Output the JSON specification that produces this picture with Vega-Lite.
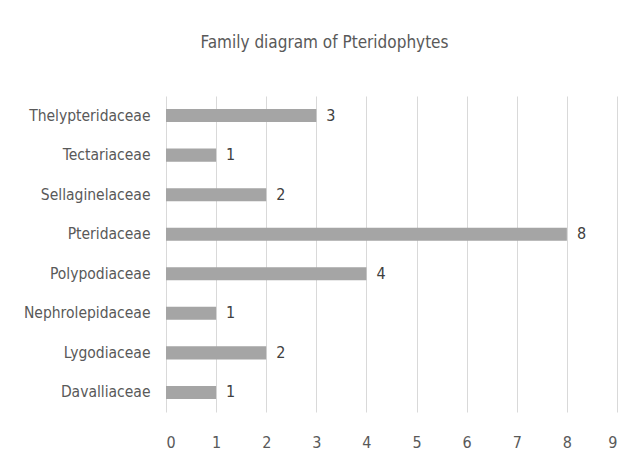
{
  "$schema": "https://vega.github.io/schema/vega-lite/v6.json",
  "width": 451,
  "height": 316,
  "autosize": {"type": "none"},
  "padding": {"left": 166, "top": 96, "right": 19, "bottom": 51},
  "background": "white",
  "title": {
    "text": "Family diagram of Pteridophytes",
    "anchor": "middle",
    "dx": -67,
    "offset": 44,
    "font": "'DejaVu Sans Condensed', 'Liberation Sans Narrow', sans-serif",
    "fontSize": 17,
    "fontWeight": "normal",
    "color": "#595959"
  },
  "data": {
    "values": [
      {"family": "Thelypteridaceae", "count": 3},
      {"family": "Tectariaceae", "count": 1},
      {"family": "Sellaginelaceae", "count": 2},
      {"family": "Pteridaceae", "count": 8},
      {"family": "Polypodiaceae", "count": 4},
      {"family": "Nephrolepidaceae", "count": 1},
      {"family": "Lygodiaceae", "count": 2},
      {"family": "Davalliaceae", "count": 1}
    ]
  },
  "encoding": {
    "y": {
      "field": "family",
      "type": "nominal",
      "sort": null,
      "title": null,
      "scale": {"paddingInner": 0.67, "paddingOuter": 0.33},
      "axis": {
        "domain": false,
        "ticks": false,
        "labelPadding": 16,
        "labelFont": "'DejaVu Sans Condensed', 'Liberation Sans Narrow', sans-serif",
        "labelFontSize": 15.5,
        "labelColor": "#595959"
      }
    },
    "x": {
      "field": "count",
      "type": "quantitative",
      "title": null,
      "scale": {"domain": [0, 9], "nice": false},
      "axis": {
        "values": [0, 1, 2, 3, 4, 5, 6, 7, 8, 9],
        "domain": false,
        "ticks": false,
        "grid": true,
        "gridColor": "#d9d9d9",
        "gridWidth": 1,
        "labelPadding": 22,
        "labelFont": "'DejaVu Sans Condensed', 'Liberation Sans Narrow', sans-serif",
        "labelFontSize": 16,
        "labelColor": "#595959"
      }
    }
  },
  "layer": [
    {"mark": {"type": "bar", "color": "#a5a5a5"}},
    {
      "mark": {"type": "text", "align": "left", "dx": 10, "font": "'DejaVu Sans Condensed', 'Liberation Sans Narrow', sans-serif", "fontSize": 16, "color": "#404040"},
      "encoding": {"text": {"field": "count", "type": "quantitative"}}
    }
  ],
  "config": {"view": {"stroke": null}}
}
